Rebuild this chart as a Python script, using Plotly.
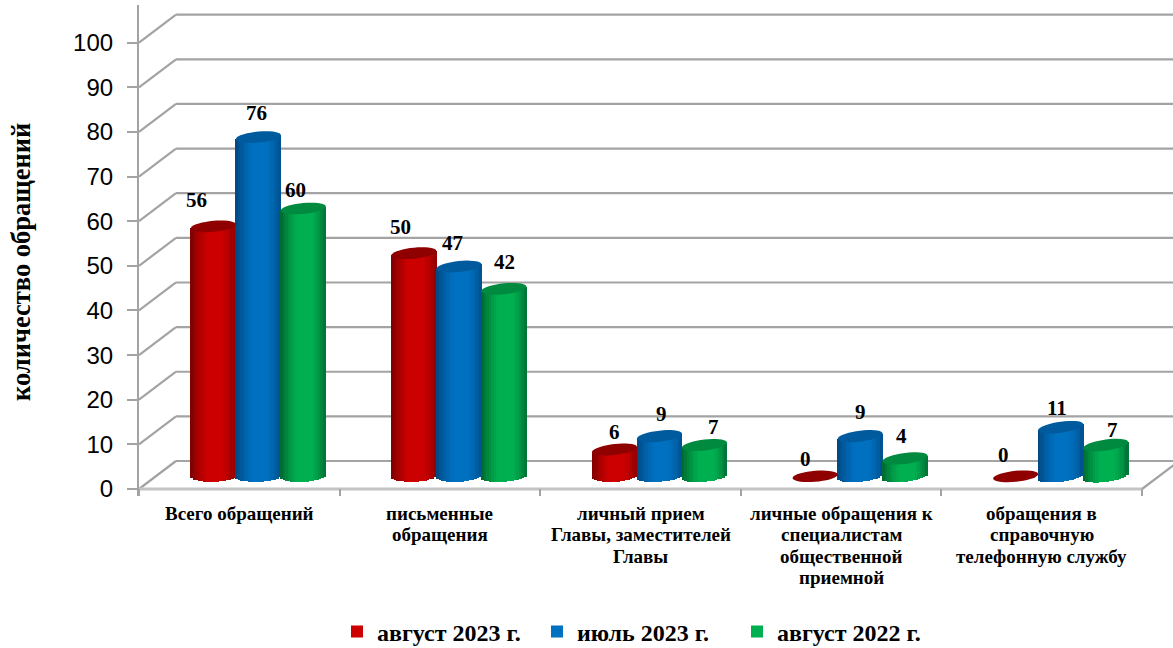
import math
import plotly.graph_objects as go

# ---- data ----
categories = [
    "Всего обращений",
    "письменные<br>обращения",
    "личный прием<br>Главы, заместителей<br>Главы",
    "личные обращения к<br>специалистам<br>общественной<br>приемной",
    "обращения в<br>справочную<br>телефонную службу",
]
series_names = ["август 2023 г.", "июль 2023 г.", "август 2022 г."]
avg_2023 = [56, 50, 6, 0, 0]
jul_2023 = [76, 47, 9, 9, 11]
avg_2022 = [60, 42, 7, 4, 7]
y_ticks = list(range(0, 101, 10))
y_title = "количество обращений"

# ---- styling / geometry helpers ----
W, H = 1173, 680   # canvas a little taller than the window so the legend does not push the margins
LEFT, BOTTOM_ZERO, TOP = 139, 489, 5
PX_X, PX_Y = 200.6, 4.463
Y_LOW = -1.5
X_END = (W - LEFT) / PX_X
Y_END = (BOTTOM_ZERO - TOP) / PX_Y
dx_back, dy_back = 37 / PX_X, 28 / PX_Y
base_y = 12.7 / PX_Y
group_shift = 19 / PX_X
half_w = 22.5 / PX_X
ell_b = 5.5 / PX_Y
N = 18

shades = [
    ("#CC0000", "#7A0000", "#8E0000"),
    ("#0070C0", "#00467F", "#004F8C"),
    ("#00B050", "#00652F", "#006F36"),
]
top_colors = ["#8F0000", "#005A9E", "#008A3F"]
series_values = [avg_2023, jul_2023, avg_2022]
label_dx = [[-16.5, -13.5, 0, -9.5, -12], [-2, -6, 1.5, 0.5, -4], [-7.5, 1, 9, -4, 7]]
label_dy = [[26, 26, 18, 17, 21], [24, 23.5, 22, 24, 19], [18.5, 27, 18, 22, 15]]


def mix(c1, c2, t):
    a = [int(c1[i:i + 2], 16) for i in (1, 3, 5)]
    b = [int(c2[i:i + 2], 16) for i in (1, 3, 5)]
    return "rgb(%d,%d,%d)" % tuple(round(p + (q - p) * t) for p, q in zip(a, b))


def strip_color(s, u):
    mid, left, right = shades[s]
    if u < 0:
        return mix(mid, left, min(1, max(0, (-u - 0.15) / 0.85)) ** 1.5)
    return mix(mid, right, min(1, max(0, (u - 0.35) / 0.65)) ** 1.5)


def bottom_tilt(i, s):
    return (0.4 + 0.45 * i + 0.4 * s) / PX_Y


def top_tilt(i):
    return (2.0 + 0.25 * i) / PX_Y


def centre(i, s):
    return i + 0.5 + group_shift + (s - 1) * 2 * half_w


fig = go.Figure()
shapes = []
GRID = dict(color="#A3A3A3", width=2.2)

for t in y_ticks:
    shapes.append(dict(type="line", xref="x", yref="y", layer="below", line=GRID,
                       x0=0, y0=t, x1=dx_back, y1=t + dy_back))
    shapes.append(dict(type="line", xref="x", yref="y", layer="below", line=GRID,
                       x0=dx_back, y0=t + dy_back, x1=X_END, y1=t + dy_back))
shapes.append(dict(type="line", xref="x", yref="y", layer="below",
                   line=dict(color="#C4C4C4", width=3), x0=0, y0=0, x1=5, y1=0))
shapes.append(dict(type="line", xref="x", yref="y", layer="below", line=GRID,
                   x0=5, y0=0, x1=5 + dx_back, y1=dy_back))

for s, vals in enumerate(series_values):
    for k in range(N):
        u = -1 + (2 * k + 1) / N
        xs, bases, heights = [], [], []
        for i, v in enumerate(vals):
            lo = base_y + bottom_tilt(i, s) * u - ell_b * math.sqrt(max(0, 1 - u * u))
            hi = base_y + v + top_tilt(i) * u
            xs.append(centre(i, s) + u * half_w)
            bases.append(lo)
            heights.append(hi - lo if v > 0 else 0)
        fig.add_trace(go.Bar(
            x=xs, y=heights, base=bases, width=2 * half_w / N * 1.25,
            marker=dict(color=shades[s][0] if k == N // 2 else strip_color(s, u), line=dict(width=0)),
            name=series_names[s], showlegend=(k == N // 2), hoverinfo="skip",
        ))

for s, vals in enumerate(series_values):
    for i, v in enumerate(vals):
        cx, cy = centre(i, s), base_y + v
        tilt = top_tilt(i) if v > 0 else bottom_tilt(i, s)
        pts = []
        for a in range(0, 360, 10):
            c, sn = math.cos(math.radians(a)), math.sin(math.radians(a))
            pts.append((cx + half_w * c, cy + ell_b * sn + tilt * c))
        path = "M" + " L".join(f"{x:.4f},{y:.4f}" for x, y in pts) + " Z"
        shapes.append(dict(type="path", xref="x", yref="y", path=path,
                           fillcolor=top_colors[s], line=dict(width=0)))

annotations = []
for s, vals in enumerate(series_values):
    for i, v in enumerate(vals):
        annotations.append(dict(
            x=centre(i, s), y=base_y + v, xref="x", yref="y", text=str(v), showarrow=False,
            xanchor="center", yanchor="middle",
            xshift=label_dx[s][i], yshift=label_dy[s][i],
            font=dict(family="Liberation Serif", size=21, color="black", weight="bold"),
        ))

for i, cat in enumerate(categories):
    for j, line in enumerate(cat.split("<br>")):
        annotations.append(dict(
            x=i + 0.5, xref="x", y=1 - (513 + 21.6 * j) / H, yref="paper", text=line,
            showarrow=False, xanchor="center", yanchor="middle",
            font=dict(family="Liberation Serif", size=19, color="black", weight="bold"),
        ))

annotations.append(dict(
    x=(21 - LEFT) / (W - LEFT), xref="paper", y=1 - 262 / H, yref="paper", text=y_title,
    textangle=-90, showarrow=False, xanchor="center", yanchor="middle",
    font=dict(family="Liberation Serif", size=26.5, color="black", weight="bold"),
))

fig.update_layout(
    width=W, height=H, autosize=False,
    margin=dict(l=LEFT, r=0, t=0, b=0, pad=0),
    paper_bgcolor="white", plot_bgcolor="white",
    barmode="overlay", bargap=0,
    shapes=shapes, annotations=annotations,
    xaxis=dict(
        range=[0, X_END], showgrid=False, zeroline=False, showline=False,
        tickmode="array", tickvals=[], ticks="", automargin=False,
        minor=dict(tickmode="array", tickvals=list(range(6)), ticks="inside", ticklen=7,
                   tickcolor="#A3A3A3", tickwidth=2, showgrid=False),
    ),
    yaxis=dict(
        domain=[1 - (BOTTOM_ZERO - Y_LOW * PX_Y) / H, 1 - TOP / H],
        range=[Y_LOW, Y_END], showgrid=False, zeroline=False, showline=True,
        linecolor="#A3A3A3", linewidth=2.2, automargin=False,
        tickmode="array", tickvals=y_ticks, ticks="outside", ticklen=10,
        tickcolor="#A3A3A3", tickwidth=2.2, ticklabelstandoff=9,
        tickfont=dict(family="Liberation Sans", size=24, color="black"),
    ),
    legend=dict(
        orientation="h", x=(337 - LEFT) / (W - LEFT), y=1 - 632 / H, xanchor="left", yanchor="middle",
        font=dict(family="Liberation Serif", size=24, color="black", weight="bold"),
        bgcolor="rgba(0,0,0,0)", traceorder="normal",
        entrywidth=155, entrywidthmode="pixels",
    ),
)

fig.write_html(
    "out.html",
    config={"displayModeBar": False},
    post_script="document.body.style.margin='0';document.body.style.overflow='hidden';",
)
